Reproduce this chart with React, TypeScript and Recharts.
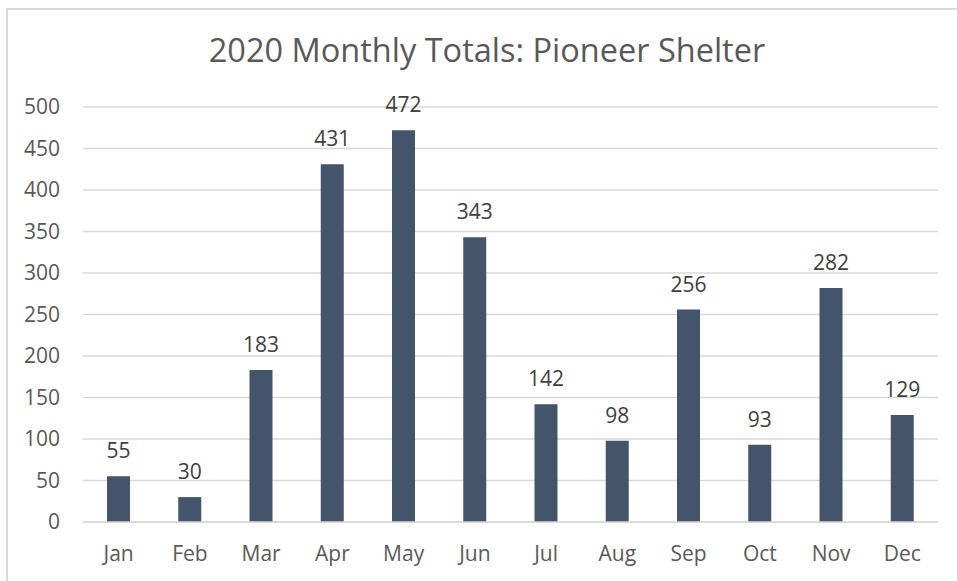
import { BarChart, Bar, XAxis, YAxis, CartesianGrid, LabelList } from "recharts";

const months = ["Jan", "Feb", "Mar", "Apr", "May", "Jun", "Jul", "Aug", "Sep", "Oct", "Nov", "Dec"];
const totals = [55, 30, 183, 431, 472, 343, 142, 98, 256, 93, 282, 129];
const yTicks = [0, 50, 100, 150, 200, 250, 300, 350, 400, 450, 500];

const BAR_COLOR = "#44546A";
const GRID_COLOR = "#D9D9D9";
const FONT = "'Open Sans', 'Noto Sans', sans-serif";

export default function App() {
  const data = months.map((m, i) => ({ name: m, value: totals[i] }));

  return (
    <div style={{ position: "absolute", left: 0, top: 0, width: 957, height: 581,
                  overflow: "hidden", background: "#fff", fontFamily: FONT }}>
      <div style={{ position: "absolute", left: 6, top: 8, width: 962, height: 600,
                    border: "2px solid #D9D9D9", boxSizing: "border-box" }} />
      <div style={{ position: "absolute", left: 6, top: 27, width: 962, textAlign: "center",
                    fontSize: 32.5, color: "#595959", lineHeight: "46px" }}>
        2020 Monthly Totals: Pioneer Shelter
      </div>
      <div style={{ position: "absolute", left: 0, top: 0 }}>
        <BarChart width={957} height={581} data={data}
                  margin={{ top: 107, right: 19, left: 0, bottom: 0 }}>
          <CartesianGrid vertical={false} stroke={GRID_COLOR} strokeWidth={1.5} />
          <XAxis dataKey="name" height={59} tickLine={false} tickSize={0} tickMargin={24}
                 axisLine={{ stroke: GRID_COLOR, strokeWidth: 1.5 }}
                 tick={{ fontSize: 21, fill: "#595959", fontFamily: FONT }} />
          <YAxis width={83} domain={[0, 500]} ticks={yTicks} interval={0}
                 axisLine={false} tickLine={false} tickSize={0} tickMargin={23}
                 tick={{ fontSize: 21, fill: "#595959", fontFamily: FONT }} />
          <Bar dataKey="value" fill={BAR_COLOR} barSize={23} isAnimationActive={false}>
            <LabelList dataKey="value" position="top" offset={18}
                       style={{ fontSize: 21, fill: "#404040", fontFamily: FONT }} />
          </Bar>
        </BarChart>
      </div>
    </div>
  );
}
